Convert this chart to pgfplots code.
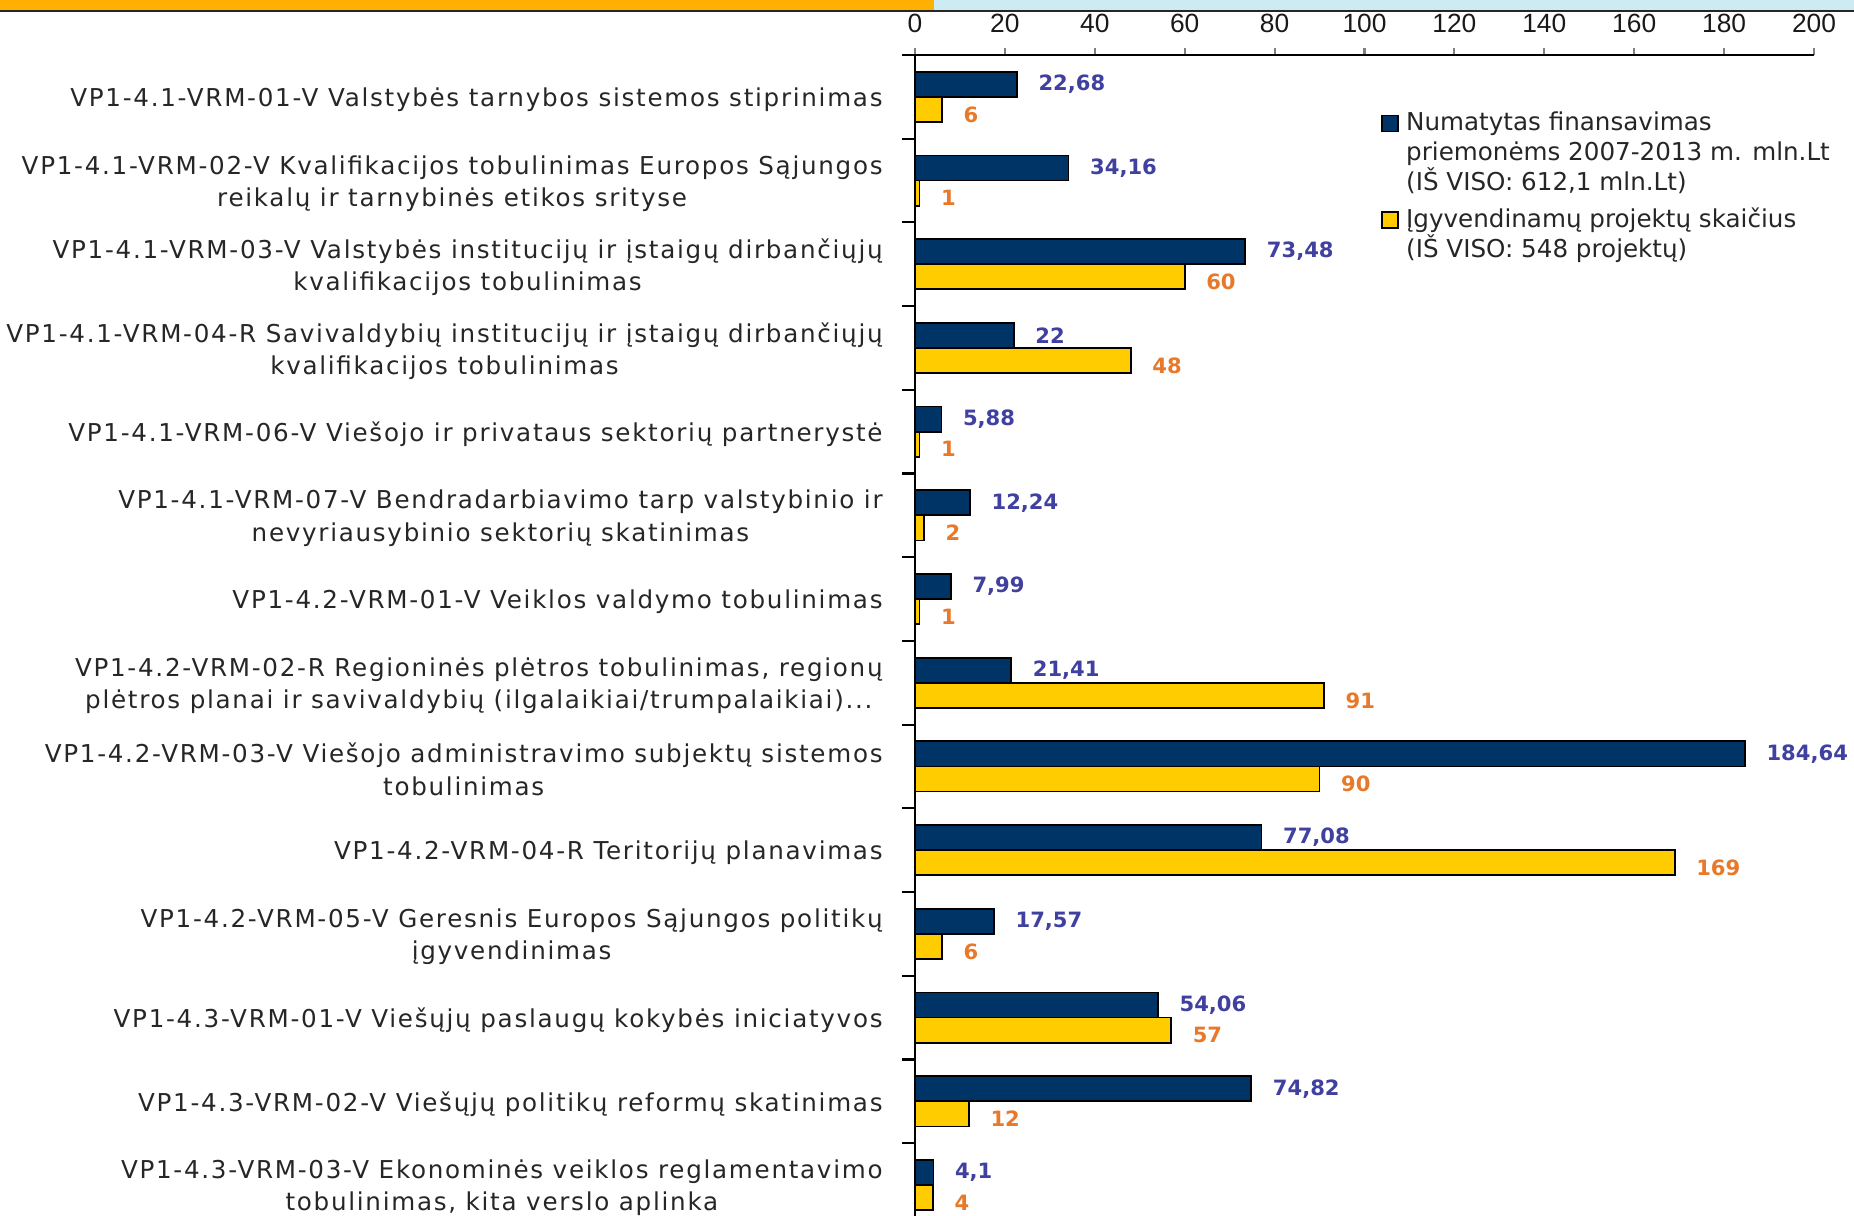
\documentclass[border=0pt]{standalone}
\usepackage{pgfplots}
\pgfplotsset{compat=1.18}
\usepackage{fontspec}
\setmainfont{DejaVu Sans}
\newfontfamily\lblfont[LetterSpace=7]{DejaVu Sans}
\newfontfamily\tickfont{Liberation Sans}
\definecolor{navy}{HTML}{003366}
\definecolor{gold}{HTML}{FFCC00}
\definecolor{lblblue}{HTML}{4040A0}
\definecolor{lblorange}{HTML}{E8792A}
\definecolor{stripeor}{HTML}{FFB000}
\definecolor{stripebl}{HTML}{CDEBF2}
\pgfplotsset{
  bluelegend/.style={legend image code/.code={\draw[##1] (0cm,0.223cm) rectangle (0.16cm,0.383cm);}},
  goldlegend/.style={legend image code/.code={\draw[##1] (0cm,0.072cm) rectangle (0.16cm,0.232cm);}},
}
\begin{document}
\begin{tikzpicture}[x=1cm,y=1cm]
\useasboundingbox (0,0) rectangle (18.54,12.16);
\fill[stripeor] (0,12.16) rectangle (9.34,12.06);
\fill[stripebl] (9.34,12.16) rectangle (18.54,12.06);
\draw[black!85, line width=0.022cm] (0,12.05) -- (18.54,12.05);
\begin{axis}[
  at={(9.15cm,0cm)}, anchor=south west,
  scale only axis, width=8.99cm, height=11.61cm,
  xmin=0, xmax=200, ymin=-0.37, ymax=13.5,
  axis x line*=top, axis y line*=left,
  axis line style={line width=0.6pt, -},
  tick align=outside,
  xtick={0,20,...,200},
  major tick length=0.07cm,
  minor tick length=0.13cm,
  xticklabel style={font=\tickfont\fontsize{7.5}{9}\selectfont, text=black!90, yshift=0.025cm},
  /pgf/number format/assume math mode=true,
  ytick={0,...,13},
  minor ytick={0.5,1.5,...,13.5},
  major y tick style={draw=none},
  minor y tick style={draw=black, line width=0.6pt},
  major x tick style={line width=0.6pt},
  yticklabel style={font=\lblfont\fontsize{7}{9.2}\selectfont, align=center, text=black!85, xshift=-0.13cm, yshift=-0.03cm},
  yticklabels={
    {VP1-4.3-VRM-03-V Ekonominės veiklos reglamentavimo\\tobulinimas, kita verslo aplinka},
    {VP1-4.3-VRM-02-V Viešųjų politikų reformų skatinimas},
    {VP1-4.3-VRM-01-V Viešųjų paslaugų kokybės iniciatyvos},
    {VP1-4.2-VRM-05-V Geresnis Europos Sąjungos politikų\\įgyvendinimas},
    {VP1-4.2-VRM-04-R Teritorijų planavimas},
    {VP1-4.2-VRM-03-V Viešojo administravimo subjektų sistemos\\tobulinimas},
    {VP1-4.2-VRM-02-R Regioninės plėtros tobulinimas, regionų\\plėtros planai ir savivaldybių (ilgalaikiai/trumpalaikiai).{}.{}.},
    {VP1-4.2-VRM-01-V Veiklos valdymo tobulinimas},
    {VP1-4.1-VRM-07-V Bendradarbiavimo tarp valstybinio ir\\nevyriausybinio sektorių skatinimas},
    {VP1-4.1-VRM-06-V Viešojo ir privataus sektorių partnerystė},
    {VP1-4.1-VRM-04-R Savivaldybių institucijų ir įstaigų dirbančiųjų\\kvalifikacijos tobulinimas},
    {VP1-4.1-VRM-03-V Valstybės institucijų ir įstaigų dirbančiųjų\\kvalifikacijos tobulinimas},
    {VP1-4.1-VRM-02-V Kvalifikacijos tobulinimas Europos Sąjungos\\reikalų ir tarnybinės etikos srityse},
    {VP1-4.1-VRM-01-V Valstybės tarnybos sistemos stiprinimas}
  },
  bar width=0.3,
  point meta=x,
  nodes near coords={\pgfmathprintnumber[use comma]{\pgfplotspointmeta}},
  legend style={at={(0.518,0.958)}, anchor=north west, draw=none, fill=none,
    font=\fontsize{7}{8.6}\selectfont, text=black!85, inner sep=0pt, row sep=-0.02cm,
    cells={align=left, anchor=west}},
  legend cell align=left,
]
\addplot[xbar, bar shift=0.15, fill=navy, draw=black, line width=0.5pt, bluelegend,
  every node near coord/.append style={font=\fontsize{6}{7}\selectfont\bfseries, text=lblblue, anchor=west, xshift=0.09cm, yshift=0.126cm}]
  coordinates {(22.68,13) (34.16,12) (73.48,11) (22,10) (5.88,9) (12.24,8) (7.99,7) (21.41,6) (184.64,5) (77.08,4) (17.57,3) (54.06,2) (74.82,1) (4.1,0)};
\addlegendentry{Numatytas finansavimas\\priemonėms 2007-2013 m. mln.Lt\\(IŠ VISO: 612,1 mln.Lt)}
\addplot[xbar, bar shift=-0.15, fill=gold, draw=black, line width=0.5pt, goldlegend,
  every node near coord/.append style={font=\fontsize{6}{7}\selectfont\bfseries, text=lblorange, anchor=west, xshift=0.09cm, yshift=-0.176cm}]
  coordinates {(6,13) (1,12) (60,11) (48,10) (1,9) (2,8) (1,7) (91,6) (90,5) (169,4) (6,3) (57,2) (12,1) (4,0)};
\addlegendentry{Įgyvendinamų projektų skaičius\\(IŠ VISO: 548 projektų)}
\end{axis}
\end{tikzpicture}
\end{document}
